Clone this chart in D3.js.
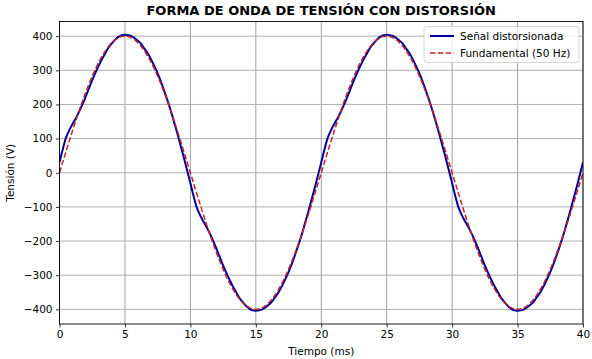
<!DOCTYPE html>
<html>
<head>
<meta charset="utf-8">
<script src="https://cdn.jsdelivr.net/npm/d3@7"></script>
<style>
  html, body { margin: 0; padding: 0; background: #fff; }
  svg { display: block; font-family: "DejaVu Sans", sans-serif; }
</style>
</head>
<body>
<svg id="chart" width="592" height="359"></svg>
<script>
// ---- data ----
const tStart = 0, tEnd = 40, tStep = 0.25;            // time samples (ms)
const xTicks = [0, 5, 10, 15, 20, 25, 30, 35, 40];
const yTicks = [-400, -300, -200, -100, 0, 100, 200, 300, 400];
const seriesNames = ["Señal distorsionada", "Fundamental (50 Hz)"];

const distorted = [
  30, 69, 103, 125, 143, 160, 179, 200, 223, 247, 271, 293, 314, 333, 350, 367, 379, 390, 398, 403, 404,
  403, 400, 394, 386, 377, 363, 349, 332, 312, 291, 267, 240, 212, 182, 149, 116, 80, 45, 7, -30,
  -69, -103, -125, -143, -160, -179, -200, -223, -247, -271, -293, -314, -333, -350, -367, -379, -390, -398, -403, -404,
  -403, -400, -394, -386, -377, -363, -349, -332, -312, -291, -267, -240, -212, -182, -149, -116, -80, -45, -7, 30,
  69, 103, 125, 143, 160, 179, 200, 223, 247, 271, 293, 314, 333, 350, 367, 379, 390, 398, 403, 404,
  403, 400, 394, 386, 377, 363, 349, 332, 312, 291, 267, 240, 212, 182, 149, 116, 80, 45, 7, -30,
  -69, -103, -125, -143, -160, -179, -200, -223, -247, -271, -293, -314, -333, -350, -367, -379, -390, -398, -403, -404,
  -403, -400, -394, -386, -377, -363, -349, -332, -312, -291, -267, -240, -212, -182, -149, -116, -80, -45, -7, 30
];

const fundamental = [
  0, 31.4, 62.6, 93.4, 123.6, 153.1, 181.6, 209.0, 235.1, 259.8, 282.8, 304.2, 323.6, 341.0, 356.4, 369.6, 380.4, 389.0, 395.1, 398.8, 400,
  398.8, 395.1, 389.0, 380.4, 369.6, 356.4, 341.0, 323.6, 304.2, 282.8, 259.8, 235.1, 209.0, 181.6, 153.1, 123.6, 93.4, 62.6, 31.4, 0,
  -31.4, -62.6, -93.4, -123.6, -153.1, -181.6, -209.0, -235.1, -259.8, -282.8, -304.2, -323.6, -341.0, -356.4, -369.6, -380.4, -389.0, -395.1, -398.8, -400,
  -398.8, -395.1, -389.0, -380.4, -369.6, -356.4, -341.0, -323.6, -304.2, -282.8, -259.8, -235.1, -209.0, -181.6, -153.1, -123.6, -93.4, -62.6, -31.4, 0,
  31.4, 62.6, 93.4, 123.6, 153.1, 181.6, 209.0, 235.1, 259.8, 282.8, 304.2, 323.6, 341.0, 356.4, 369.6, 380.4, 389.0, 395.1, 398.8, 400,
  398.8, 395.1, 389.0, 380.4, 369.6, 356.4, 341.0, 323.6, 304.2, 282.8, 259.8, 235.1, 209.0, 181.6, 153.1, 123.6, 93.4, 62.6, 31.4, 0,
  -31.4, -62.6, -93.4, -123.6, -153.1, -181.6, -209.0, -235.1, -259.8, -282.8, -304.2, -323.6, -341.0, -356.4, -369.6, -380.4, -389.0, -395.1, -398.8, -400,
  -398.8, -395.1, -389.0, -380.4, -369.6, -356.4, -341.0, -323.6, -304.2, -282.8, -259.8, -235.1, -209.0, -181.6, -153.1, -123.6, -93.4, -62.6, -31.4, 0
];

const time = distorted.map((_, i) => tStart + i * tStep);

// ---- layout ----
const W = 592, H = 359;
const margin = { top: 21.5, right: 9, bottom: 35, left: 59.5 };
const svg = d3.select("#chart");

const x = d3.scaleLinear().domain([tStart, tEnd]).range([margin.left, W - margin.right]);
const y = d3.scaleLinear().domain([-443, 443]).range([H - margin.bottom, margin.top]);

const fmt = d => (d < 0 ? "\u2212" + Math.abs(d) : String(d));

// grid
const grid = svg.append("g");
grid.selectAll("line.vx").data(xTicks).join("line")
  .attr("x1", d => x(d)).attr("x2", d => x(d))
  .attr("y1", margin.top).attr("y2", H - margin.bottom)
  .attr("stroke", "#a0a0a0").attr("stroke-width", 1);
grid.selectAll("line.hy").data(yTicks).join("line")
  .attr("y1", d => y(d)).attr("y2", d => y(d))
  .attr("x1", margin.left).attr("x2", W - margin.right)
  .attr("stroke", "#b0b0b0").attr("stroke-width", 1);

// lines
const line = d3.line().x((d, i) => x(time[i])).y(d => y(d)).curve(d3.curveCatmullRom);
svg.append("clipPath").attr("id", "clip").append("rect")
  .attr("x", margin.left).attr("y", margin.top)
  .attr("width", W - margin.left - margin.right).attr("height", H - margin.top - margin.bottom);

svg.append("path").datum(distorted)
  .attr("d", line).attr("fill", "none")
  .attr("stroke", "#00009a").attr("stroke-width", 2)
  .attr("clip-path", "url(#clip)");
svg.append("path").datum(fundamental)
  .attr("d", line).attr("fill", "none")
  .attr("stroke", "#cc1f28").attr("stroke-width", 1.5)
  .attr("stroke-dasharray", "5.5,2.4")
  .attr("clip-path", "url(#clip)");

// axes
const xAxis = d3.axisBottom(x).tickValues(xTicks).tickSize(3.5).tickPadding(3.5).tickFormat(fmt);
const yAxis = d3.axisLeft(y).tickValues(yTicks).tickSize(3.5).tickPadding(3.5).tickFormat(fmt);
const gx = svg.append("g").attr("transform", `translate(0,${H - margin.bottom})`).call(xAxis);
const gy = svg.append("g").attr("transform", `translate(${margin.left},0)`).call(yAxis);
[gx, gy].forEach(g => {
  g.selectAll("text").attr("font-size", 10.5).attr("fill", "#000").attr("font-family", "DejaVu Sans, sans-serif");
  g.selectAll("line").attr("stroke", "#000").attr("stroke-width", 0.8);
  g.select(".domain").remove();
});

// frame
svg.append("rect")
  .attr("x", margin.left).attr("y", margin.top)
  .attr("width", W - margin.left - margin.right).attr("height", H - margin.top - margin.bottom)
  .attr("fill", "none").attr("stroke", "#000").attr("stroke-width", 0.9);

// title & labels
svg.append("text").attr("x", (margin.left + W - margin.right) / 2).attr("y", 15)
  .attr("text-anchor", "middle").attr("font-size", 13).attr("font-weight", "bold")
  .text("FORMA DE ONDA DE TENSIÓN CON DISTORSIÓN");
svg.append("text").attr("x", (margin.left + W - margin.right) / 2).attr("y", 355)
  .attr("text-anchor", "middle").attr("font-size", 10.5).text("Tiempo (ms)");
svg.append("text")
  .attr("transform", `translate(14,${(margin.top + H - margin.bottom) / 2}) rotate(-90)`)
  .attr("text-anchor", "middle").attr("font-size", 10.5).text("Tensión (V)");

// legend
const lg = svg.append("g");
lg.append("rect").attr("x", 424).attr("y", 26.5).attr("width", 155).attr("height", 36).attr("rx", 3)
  .attr("fill", "#fff").attr("fill-opacity", 0.8).attr("stroke", "#cccccc").attr("stroke-width", 0.8);
const styles = [
  { stroke: "#00009a", w: 2, dash: null },
  { stroke: "#cc1f28", w: 1.5, dash: "5.5,2.4" }
];
seriesNames.forEach((name, i) => {
  const yy = 36 + i * 17;
  lg.append("line").attr("x1", 430).attr("x2", 454).attr("y1", yy).attr("y2", yy)
    .attr("stroke", styles[i].stroke).attr("stroke-width", styles[i].w)
    .attr("stroke-dasharray", styles[i].dash);
  lg.append("text").attr("x", 460).attr("y", yy + 3.7).attr("font-size", 10.5).text(name);
});
</script>
</body>
</html>
